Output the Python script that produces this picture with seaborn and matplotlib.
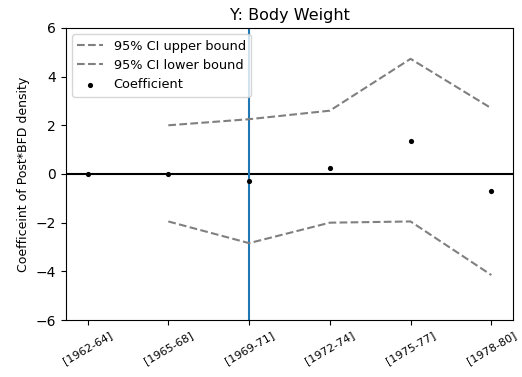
import matplotlib
matplotlib.use("Agg")
import matplotlib.pyplot as plt
import seaborn as sns
import pandas as pd
import numpy as np

periods = ["[1962-64]", "[1965-68]", "[1969-71]", "[1972-74]", "[1975-77]", "[1978-80]"]
coef = [0.0, 0.0, -0.3, 0.25, 1.35, -0.7]
ci_upper = [np.nan, 2.0, 2.25, 2.6, 4.73, 2.7]
ci_lower = [np.nan, -1.95, -2.84, -2.0, -1.95, -4.15]

df = pd.DataFrame({"x": np.arange(len(periods)), "coef": coef,
                   "upper": ci_upper, "lower": ci_lower})

fig = plt.figure(figsize=(5.22, 3.77), dpi=100)
ax = fig.add_axes([0.126, 0.151, 0.857, 0.775])

sns.lineplot(data=df.dropna(), x="x", y="upper", ax=ax, color="gray",
             linestyle="--", label="95% CI upper bound")
sns.lineplot(data=df.dropna(), x="x", y="lower", ax=ax, color="gray",
             linestyle="--", label="95% CI lower bound")
sns.scatterplot(data=df, x="x", y="coef", ax=ax, color="black", s=14,
                edgecolor="black", linewidth=0, label="Coefficient", zorder=5)

ax.axhline(0, color="black", linewidth=1.5, zorder=1)
ax.axvline(2, color="tab:blue", linewidth=1.5, zorder=1)

ax.set_ylim(-6, 6)
ax.set_yticks([-6, -4, -2, 0, 2, 4, 6])
ax.set_xlim(-0.27, 5.27)
ax.set_xticks(df["x"])
ax.set_xticklabels(periods, rotation=30, fontsize=8)
ax.set_xlabel("")
ax.set_ylabel("Coefficeint of Post*BFD density", fontsize=9)
ax.tick_params(axis="y", labelsize=10)
ax.set_title("Y: Body Weight", fontsize=11.5)
ax.legend(loc="upper left", fontsize=9.3)

fig.savefig("out.png", dpi=100)
